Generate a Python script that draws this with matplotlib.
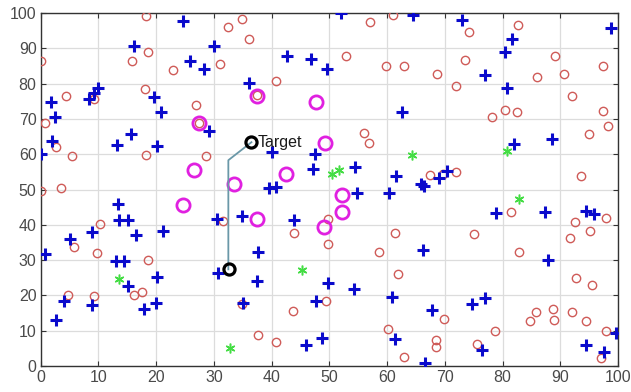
import matplotlib
matplotlib.use("Agg")
import matplotlib.pyplot as plt

# node positions
red_x = [18.3, 0.0, 15.8, 18.6, 22.9, 31.1, 32.4, 34.9, 36.0, 40.7, 4.3, 9.2, 18.1, 26.9, 0.8,
         2.6, 5.4, 18.3, 28.7, 0.0, 3.5, 37.5, 27.5,
         57.1, 61.0, 74.2, 82.7, 52.8, 59.8, 63.0, 68.7, 73.5, 71.9, 89.0, 86.0, 90.7, 97.4,
         92.0, 78.1, 80.4, 82.5, 97.4, 98.2, 94.9, 56.0, 56.8, 67.5, 69.6, 72.0, 93.5,
         10.2, 5.8, 9.7, 18.6, 4.7, 9.3, 16.1, 17.5, 31.5, 43.9, 34.8, 43.7, 37.6, 40.7,
         49.7, 49.8, 49.5,
         61.3, 58.6, 75.0, 81.4, 82.9, 92.5, 95.1, 97.9, 91.6, 61.8, 92.8, 95.4, 69.8, 85.8,
         84.7, 88.7, 88.9, 92.1, 94.4, 78.7, 97.9, 60.1, 68.4, 68.5, 75.6, 62.9, 97.0]
red_y = [99.0, 86.5, 86.3, 89.0, 83.8, 85.5, 96.0, 98.4, 92.5, 80.6, 76.6, 75.5, 78.5, 74.0, 68.8,
         62.0, 59.4, 59.7, 59.4, 49.7, 50.3, 76.8, 68.8,
         97.4, 99.3, 94.5, 96.7, 87.8, 84.9, 84.9, 82.8, 86.6, 79.3, 87.8, 82.0, 82.8, 85.0,
         76.5, 70.4, 72.6, 72.0, 72.3, 67.9, 65.6, 66.0, 63.2, 54.2, 54.3, 55.0, 53.8,
         40.1, 33.6, 31.9, 30.0, 20.2, 19.9, 20.2, 21.0, 41.2, 37.7, 17.7, 15.7, 8.7, 6.7,
         41.7, 34.5, 18.4,
         37.8, 32.4, 37.4, 43.6, 32.2, 40.9, 38.4, 41.9, 36.3, 26.0, 24.9, 23.1, 13.4, 15.2,
         12.8, 16.2, 13.0, 15.2, 12.8, 9.9, 9.9, 10.5, 7.4, 5.3, 6.2, 2.5, 2.3]

blue_x = [24.7, 16.1, 30.1, 25.9, 28.2, 36.0, 1.7, 2.5, 8.3, 9.2, 10.0, 19.7, 20.8, 15.6, 13.2,
          20.2, 1.9, 0.0, 29.1, 40.0, 42.7, 46.9, 49.6, 47.5, 47.2, 39.6, 40.7,
          52.0, 64.5, 73.0, 81.6, 80.5, 76.9, 80.7, 62.6, 98.7, 81.9, 88.6, 54.5, 61.5, 65.9,
          66.4, 69.0, 70.3, 54.8, 60.3,
          13.4, 13.6, 15.2, 16.5, 21.2, 5.1, 8.9, 0.7, 13.0, 14.5, 20.2, 15.1, 4.0, 8.9, 17.9,
          19.9, 2.6, 30.5, 34.9, 37.6, 37.4, 30.7, 35.0, 43.8, 47.7, 46.0, 48.8, 49.7,
          78.8, 87.4, 94.4, 95.8, 66.3, 87.8, 54.3, 60.8, 67.8, 74.7, 77.0, 61.3, 66.5, 76.5,
          94.4, 97.6, 99.7]
blue_y = [97.7, 90.7, 90.6, 86.4, 84.0, 80.3, 74.9, 70.6, 75.5, 77.2, 78.8, 76.1, 72.0, 65.6, 62.6,
          62.4, 63.6, 60.0, 66.7, 60.7, 87.7, 87.0, 84.2, 60.0, 55.8, 50.5, 50.8,
          100.0, 99.5, 98.0, 92.5, 88.8, 82.5, 78.8, 72.0, 95.6, 62.9, 64.4, 56.5, 53.7, 51.7,
          51.0, 53.3, 55.3, 48.9, 49.0,
          45.9, 41.3, 41.3, 37.2, 38.3, 35.9, 38.0, 31.8, 29.8, 29.8, 25.1, 22.7, 18.4, 17.2, 16.1,
          17.8, 13.0, 41.6, 42.4, 32.4, 24.1, 26.5, 17.8, 41.3, 18.4, 6.0, 8.0, 23.6,
          43.3, 43.6, 44.0, 43.0, 32.8, 30.0, 21.8, 19.5, 16.0, 17.5, 19.3, 7.8, 0.8, 4.6,
          6.0, 4.0, 9.3]

mag_x = [37.5, 47.6, 27.5, 26.5, 33.5, 42.5, 49.2, 52.2, 52.1, 49.1, 24.6, 37.5]
mag_y = [76.6, 74.7, 68.7, 55.4, 51.6, 54.5, 63.3, 48.5, 43.6, 39.5, 45.6, 41.6]

green_x = [64.3, 80.7, 50.5, 51.6, 82.8, 13.6, 32.8, 45.3]
green_y = [59.8, 60.8, 54.3, 55.4, 47.4, 24.8, 5.0, 27.1]

path_x = [32.5, 32.5, 36.5]
path_y = [27.4, 58.3, 63.4]
target = (36.5, 63.4)
start = (32.7, 27.4)

plt.rcParams['font.family'] = ['Liberation Sans', 'DejaVu Sans']

fig = plt.figure(figsize=(6.31, 3.92), dpi=100)
ax = fig.add_axes([0.0645, 0.066, 0.915, 0.901])

ax.plot(red_x, red_y, 'o', ms=6, mfc='none', mec='#cf5b58', mew=1.0, zorder=3)
ax.plot(blue_x, blue_y, '+', ms=9, mec='#0a0acc', mew=2.2, zorder=4)
ax.plot(green_x, green_y, ls='none', marker=(6, 2, 0), ms=7, mec='#44dd44', mew=1.1, zorder=4)
ax.plot(mag_x, mag_y, 'o', ms=9.5, mfc='none', mec='#e020e0', mew=2.0, zorder=5)
ax.plot(path_x, path_y, '-', color='#6a98a8', lw=1.3, zorder=5)
ax.plot(*start, 'o', ms=8, mfc='none', mec='black', mew=2.3, zorder=6)
ax.plot(*target, 'o', ms=8, mfc='none', mec='black', mew=2.3, zorder=6)
ax.text(target[0] + 1.0, target[1], 'Target', fontsize=11.5, color='#1a1a1a',
        va='center', ha='left', zorder=7)

ax.set_xlim(0, 100)
ax.set_ylim(0, 100)
ax.set_xticks(range(0, 101, 10))
ax.set_yticks(range(0, 101, 10))
ax.grid(True, color='#dcdcdc', lw=0.9)
ax.set_axisbelow(True)
ax.tick_params(direction='in', top=True, right=True, length=3.5, width=0.8,
               labelsize=11.5, labelcolor='#4a4a4a', color='#333333', pad=3)
for s in ax.spines.values():
    s.set_color('#333333')
    s.set_linewidth(1.0)

fig.savefig('out.png', dpi=100)
